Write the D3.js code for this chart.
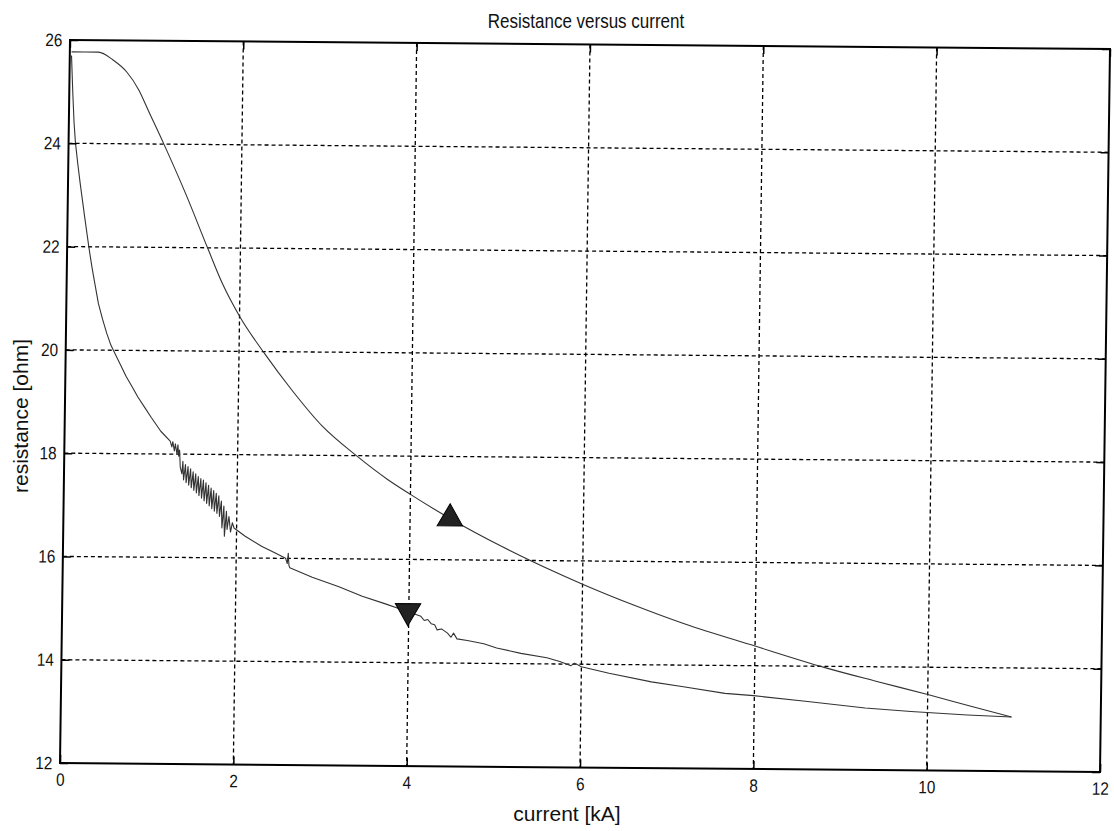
<!DOCTYPE html>
<html>
<head>
<meta charset="utf-8">
<script src="https://cdn.jsdelivr.net/npm/d3@7"></script>
<style>
  body { margin: 0; background: #fff; }
  svg { display: block; }
  text { font-family: "Liberation Sans", Arial, sans-serif; fill: #111; }
</style>
</head>
<body>
<svg id="chart" width="1114" height="831"></svg>
<script>
const chartTitle = "Resistance versus current";
const xLabel = "current [kA]";
const yLabel = "resistance [ohm]";
const xTicks = [0, 2, 4, 6, 8, 10, 12];
const yTicks = [12, 14, 16, 18, 20, 22, 24, 26];

// branch with rising current: [current kA, resistance ohm]
const risingBranch = [
  [0.02, 25.77], [0.33, 25.77], [0.5, 25.62], [0.66, 25.39], [0.8, 25.05],
  [0.92, 24.63], [1.1, 24.0], [1.36, 23.04], [1.62, 22.0], [1.8, 21.3],
  [2.0, 20.68], [2.3, 19.95], [2.61, 19.27], [2.97, 18.57], [3.37, 18.0],
  [3.73, 17.55], [4.0, 17.26], [4.46, 16.8], [5.07, 16.26], [6.0, 15.55],
  [6.6, 15.15], [7.18, 14.8], [8.0, 14.38], [8.8, 13.98], [9.4, 13.72],
  [10.0, 13.47], [10.5, 13.25], [10.97, 13.05]
];

// branch with falling current: [current kA, resistance ohm]
const fallingBranch = [
  [10.97, 13.05], [10.46, 13.08], [9.81, 13.14], [9.28, 13.2], [8.59, 13.32],
  [7.99, 13.42], [7.66, 13.46], [7.18, 13.58], [6.81, 13.67], [6.32, 13.83],
  [6.0, 13.95], [5.92, 14.02], [5.88, 13.97], [5.75, 14.05], [5.6, 14.12],
  [5.3, 14.2], [5.02, 14.3], [4.87, 14.38], [4.68, 14.44], [4.56, 14.47],
  [4.52, 14.58], [4.49, 14.5], [4.45, 14.58], [4.38, 14.66], [4.33, 14.64],
  [4.3, 14.74], [4.26, 14.76], [4.22, 14.84], [4.18, 14.82], [4.14, 14.9],
  [4.0, 14.98], [3.9, 15.04], [3.72, 15.14], [3.46, 15.28], [3.19, 15.46],
  [2.88, 15.64], [2.75, 15.73], [2.62, 15.82], [2.61, 15.86], [2.6, 16.1],
  [2.59, 15.9], [2.57, 16.0], [2.45, 16.1], [2.29, 16.23], [2.1, 16.42],
  [1.97, 16.58], [1.95, 16.68], [1.93, 16.5], [1.91, 16.8], [1.89, 16.55],
  [1.88, 16.9], [1.86, 16.42], [1.85, 17.0], [1.83, 16.58], [1.82, 17.1],
  [1.8, 16.8], [1.79, 17.2], [1.77, 16.86], [1.76, 17.25], [1.74, 16.9],
  [1.73, 17.3], [1.71, 16.95], [1.7, 17.35], [1.68, 17.0], [1.67, 17.4],
  [1.65, 17.05], [1.64, 17.45], [1.62, 17.1], [1.61, 17.5], [1.59, 17.15],
  [1.58, 17.53], [1.56, 17.2], [1.55, 17.57], [1.53, 17.25], [1.52, 17.62],
  [1.5, 17.3], [1.49, 17.66], [1.47, 17.35], [1.46, 17.72], [1.44, 17.4],
  [1.43, 17.76], [1.41, 17.45], [1.4, 17.8], [1.38, 17.5], [1.37, 17.86],
  [1.36, 17.62], [1.34, 17.75], [1.33, 18.08], [1.32, 17.96], [1.31, 18.18],
  [1.3, 18.0], [1.28, 18.2], [1.27, 18.06], [1.25, 18.24], [1.24, 18.14],
  [1.22, 18.25], [1.11, 18.44], [1.0, 18.7], [0.92, 18.9], [0.84, 19.1],
  [0.76, 19.33], [0.7, 19.5], [0.64, 19.7], [0.58, 19.9], [0.52, 20.1],
  [0.47, 20.33], [0.42, 20.6], [0.37, 20.9], [0.33, 21.25], [0.29, 21.6],
  [0.25, 22.0], [0.2, 22.55], [0.14, 23.23], [0.11, 23.6], [0.08, 24.0],
  [0.06, 24.4], [0.04, 25.0], [0.02, 25.7]
];

const risingMarker = [4.46, 16.8];
const fallingMarker = [3.99, 15.0];

const W = 1040, H = 723;
const svg = d3.select("#chart");

const x = d3.scaleLinear().domain([0, 12]).range([0, W]);
const y = d3.scaleLinear().domain([12, 26]).range([H, 0]);

// the whole axes box sits slightly tilted on the sheet
const plot = svg.append("g")
  .attr("transform", `matrix(1, ${9 / W}, ${-10 / H}, 1, 70, 40)`);

// dotted grid
const grid = plot.append("g")
  .attr("stroke", "#000").attr("stroke-width", 1.3).attr("stroke-dasharray", "4,3");
grid.selectAll("line.gx").data(xTicks.slice(1, -1)).join("line")
  .attr("x1", d => x(d)).attr("x2", d => x(d)).attr("y1", 0).attr("y2", H);
grid.selectAll("line.gy").data(yTicks.slice(1, -1)).join("line")
  .attr("y1", d => y(d)).attr("y2", d => y(d)).attr("x1", 0).attr("x2", W);

// curves
const smooth = d3.line().curve(d3.curveMonotoneX).x(d => x(d[0])).y(d => y(d[1]));
const raw = d3.line().x(d => x(d[0])).y(d => y(d[1]));
plot.append("path").datum(risingBranch)
  .attr("d", smooth).attr("fill", "none").attr("stroke", "#333").attr("stroke-width", 1.1);
plot.append("path").datum(fallingBranch)
  .attr("d", raw).attr("fill", "none").attr("stroke", "#333").attr("stroke-width", 1.1)
  .attr("stroke-linejoin", "round");

// direction markers
const tri = d3.symbol(d3.symbolTriangle).size(280);
plot.append("path").attr("d", tri())
  .attr("transform", `translate(${x(risingMarker[0])},${y(risingMarker[1])})`)
  .attr("fill", "#222").attr("stroke", "#000").attr("stroke-width", 1);
plot.append("path").attr("d", tri())
  .attr("transform", `translate(${x(fallingMarker[0])},${y(fallingMarker[1])}) rotate(180)`)
  .attr("fill", "#222").attr("stroke", "#000").attr("stroke-width", 1);

// axes with inward ticks on all four sides; labels set in a condensed face
const styleAxis = g => {
  g.select(".domain").remove();
  g.selectAll(".tick line").attr("stroke", "#000").attr("stroke-width", 1.5);
  g.selectAll(".tick text").attr("font-size", 18).attr("fill", "#111")
    .attr("font-family", "'Liberation Sans', Arial, sans-serif")
    .attr("transform", "scale(0.85,1)");
};
plot.append("g").attr("transform", `translate(0,${H})`)
  .call(d3.axisBottom(x).tickValues(xTicks).tickSize(-8).tickPadding(10).tickFormat(d3.format("d")))
  .call(styleAxis);
plot.append("g")
  .call(d3.axisTop(x).tickValues(xTicks).tickSize(-8).tickFormat(""))
  .call(styleAxis);
plot.append("g")
  .call(d3.axisLeft(y).tickValues(yTicks).tickSize(-8).tickPadding(9).tickFormat(d3.format("d")))
  .call(styleAxis);
plot.append("g").attr("transform", `translate(${W},0)`)
  .call(d3.axisRight(y).tickValues(yTicks).tickSize(-8).tickFormat(""))
  .call(styleAxis);

// frame
plot.append("rect").attr("width", W).attr("height", H)
  .attr("fill", "none").attr("stroke", "#000").attr("stroke-width", 2);

// title and axis labels
svg.append("text").attr("transform", "translate(586,28) scale(0.85,1)").attr("text-anchor", "middle")
  .attr("font-size", 20).text(chartTitle);
svg.append("text").attr("x", 567).attr("y", 821).attr("text-anchor", "middle")
  .attr("font-size", 21).text(xLabel);
svg.append("text").attr("transform", "translate(28,416) rotate(-90)").attr("text-anchor", "middle")
  .attr("font-size", 21).text(yLabel);
</script>
</body>
</html>
